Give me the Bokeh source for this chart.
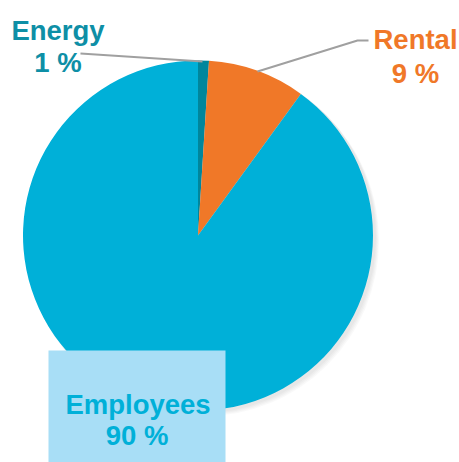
import numpy as np
from bokeh.plotting import figure
from bokeh.models import Range1d
from bokeh.core.properties import value
from bokeh.embed import file_html
from bokeh.resources import INLINE

categories = ["Energy", "Rental", "Employees"]
shares = [1, 9, 90]
pct_labels = ["1 %", "9 %", "90 %"]
colors = ["#00869C", "#F07828", "#00B0D8"]

W, H = 459, 462
p = figure(width=W, height=H, output_backend="svg", toolbar_location=None,
           x_range=Range1d(0, W), y_range=Range1d(0, H),
           min_border=0)
p.axis.visible = False
p.grid.visible = False
p.outline_line_color = None
p.background_fill_color = "white"

def Y(py):
    return 462 - py

cx, cy, r = 197.5, Y(235), 175

# soft shadow
for i, a in enumerate([0.05, 0.05, 0.05, 0.05]):
    p.circle(x=[cx + 2 + i], y=[cy - 2 - i], radius=r + 1, fill_color="#808080",
             fill_alpha=a, line_color=None)

vals = np.array(shares, dtype=float)
frac = vals / vals.sum()
ends = np.cumsum(frac)
starts = ends - frac
start_ang = np.pi / 2 - starts * 2 * np.pi
end_ang = np.pi / 2 - ends * 2 * np.pi
p.wedge(x=cx, y=cy, radius=r, start_angle=start_ang, end_angle=end_ang,
        direction="clock", fill_color=colors, line_color=None)

# leader lines
p.line(x=[80, 202], y=[Y(53), Y(61)], line_color="#A0A0A0", line_width=2)
p.line(x=[257, 357, 368], y=[Y(71), Y(40), Y(40)], line_color="#A0A0A0", line_width=2)

# Employees box
p.quad(left=48, right=225, bottom=Y(462), top=Y(350), fill_color="#A8DEF6", line_color=None)

font = value("Liberation Sans")
def lab(x, y, t, c):
    p.text(x=[x], y=[Y(y)], text=[t], text_color=c, text_font=font, text_font_size="27.5px",
           text_font_style="bold", text_align="center", text_baseline="alphabetic")

lab(57.5, 30, categories[0], "#0E8FA6")
lab(57.5, 62, pct_labels[0], "#0E8FA6")
lab(415, 39, categories[1], "#F07828")
lab(415, 73, pct_labels[1], "#F07828")
lab(137.5, 404, categories[2], "#00B0D8")
lab(136.5, 435, pct_labels[2], "#00B0D8")

open("out.html", "w").write(file_html(p, INLINE))
